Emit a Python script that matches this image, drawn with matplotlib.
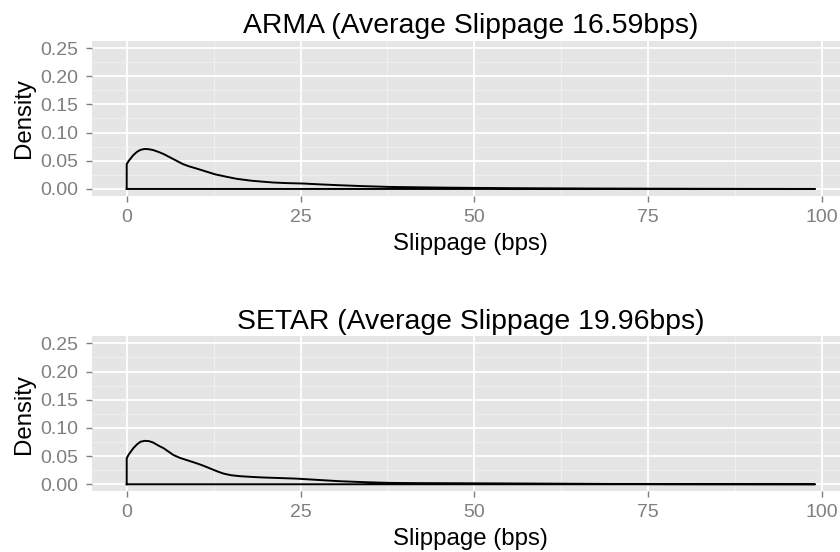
import matplotlib
matplotlib.use("Agg")
import matplotlib.pyplot as plt
from matplotlib.ticker import FixedLocator

plt.rcParams['font.family'] = ['Liberation Sans', 'DejaVu Sans']

# Data
arma_x = [0, 0.3, 0.95, 1.5, 2.0, 2.6, 3.2, 3.8, 4.5, 5.3, 6.0, 6.7, 7.4, 8.1, 9.0, 10.1,
          11.4, 12.7, 14.2, 15.8, 18.0, 21.1, 23.0, 25.4, 28.0, 30.6, 34.0, 37.8, 42.0,
          46.0, 50.8, 55.0, 60.0, 68.0, 75.0, 82.0, 90.0, 99.0]
arma_y = [0.044, 0.050, 0.060, 0.066, 0.0695, 0.071, 0.0705, 0.069, 0.066, 0.062, 0.0575,
          0.053, 0.0485, 0.044, 0.040, 0.036, 0.031, 0.026, 0.022, 0.018, 0.0145, 0.0114,
          0.0104, 0.0096, 0.008, 0.0066, 0.0050, 0.0036, 0.0029, 0.0023, 0.0018, 0.0014,
          0.0011, 0.0007, 0.0005, 0.0003, 0.0001, 0.0]

setar_x = [0, 0.3, 0.95, 1.5, 2.0, 2.6, 3.2, 3.8, 4.5, 5.3, 6.0, 6.7, 7.6, 8.6, 10.1, 11.0,
           12.0, 13.0, 13.9, 15.0, 16.3, 18.0, 19.6, 22.0, 24.4, 27.5, 30.6, 34.0, 37.8,
           42.0, 47.0, 55.0, 62.0, 70.0, 80.0, 90.0, 99.0]
setar_y = [0.046, 0.053, 0.064, 0.071, 0.0755, 0.077, 0.0765, 0.074, 0.069, 0.064, 0.058,
           0.052, 0.047, 0.043, 0.037, 0.033, 0.028, 0.023, 0.019, 0.016, 0.0143, 0.013,
           0.012, 0.011, 0.010, 0.0077, 0.0054, 0.0038, 0.0024, 0.0020, 0.0018, 0.0014,
           0.0010, 0.0005, 0.0002, 0.0001, 0.0]

titles = ["ARMA (Average Slippage 16.59bps)", "SETAR (Average Slippage 19.96bps)"]
x_ticks = [0, 25, 50, 75, 100]
x_minor = [12.5, 37.5, 62.5, 87.5]
y_ticks = [0.00, 0.05, 0.10, 0.15, 0.20, 0.25]
y_minor = [0.025, 0.075, 0.125, 0.175, 0.225]
x_label = "Slippage (bps)"
y_label = "Density"

W, H = 840, 552
fig = plt.figure(figsize=(W / 100, H / 100), dpi=100)

left_px, right_px = 92.3, 849.5
panels = [(41.0, 196.0), (336.3, 491.3)]
series = [(arma_x, arma_y), (setar_x, setar_y)]

grey50 = "#7F7F7F"
for (top_px, bot_px), (xs, ys), title in zip(panels, series, titles):
    ax = fig.add_axes([left_px / W, 1 - bot_px / H, (right_px - left_px) / W, (bot_px - top_px) / H])
    ax.set_facecolor("#E5E5E5")
    for s in ax.spines.values():
        s.set_visible(False)
    ax.set_xlim(-4.95, 103.95)
    ax.set_ylim(-0.0125, 0.2625)
    ax.xaxis.set_major_locator(FixedLocator(x_ticks))
    ax.xaxis.set_minor_locator(FixedLocator(x_minor))
    ax.yaxis.set_major_locator(FixedLocator(y_ticks))
    ax.yaxis.set_minor_locator(FixedLocator(y_minor))
    ax.set_xticklabels([str(v) for v in x_ticks])
    ax.set_yticklabels([f"{v:.2f}" for v in y_ticks])
    ax.grid(which="major", color="white", linewidth=1.3)
    ax.grid(which="minor", color="#F2F2F2", linewidth=0.6)
    ax.set_axisbelow(True)
    ax.tick_params(which="major", length=4.5, width=1.0, color=grey50, labelcolor=grey50,
                   labelsize=14)
    ax.tick_params(axis="x", which="major", pad=5)
    ax.tick_params(axis="y", which="major", pad=5.5)
    ax.tick_params(which="minor", length=0)
    # density outline: closed polygon
    px = [xs[0]] + list(xs) + [xs[-1], xs[0]]
    py = [0.0] + list(ys) + [0.0, 0.0]
    ax.plot(px, py, color="black", linewidth=1.4, solid_joinstyle="round")
    ax.set_xlabel(x_label, fontsize=17.3, labelpad=5)
    ax.set_ylabel(y_label, fontsize=17.3, labelpad=4)
    ax.set_title(title, fontsize=20.4, pad=5.5)

fig.savefig("out.png", dpi=100)
